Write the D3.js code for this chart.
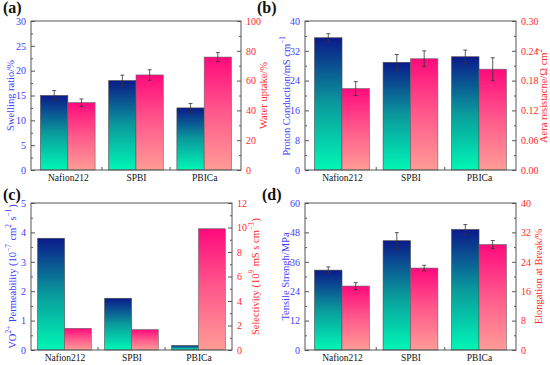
<!DOCTYPE html>
<html>
<head>
<meta charset="utf-8">
<script src="https://cdn.jsdelivr.net/npm/d3@7"></script>
<style>
  body { margin: 0; background: #fff; }
  svg text { font-family: "Liberation Serif", "Times New Roman", "DejaVu Serif", serif !important; }
</style>
</head>
<body>
<svg id="chart" width="550" height="365"></svg>
<script>
// membrane property data
var categories = ["Nafion212", "SPBI", "PBICa"];

var swelling = [15.0, 18.0, 12.5];
var swellingErr = [1.0, 1.1, 0.9];
var waterUptake = [45.2, 63.8, 75.8];
var waterUptakeErr = [2.5, 3.5, 3.0];

var conduction = [35.5, 28.9, 30.4];
var conductionErr = [1.1, 2.1, 1.8];
var resistance = [0.164, 0.224, 0.203];
var resistanceErr = [0.014, 0.016, 0.023];

var permeability = [3.8, 1.76, 0.15];
var selectivity = [1.77, 1.66, 9.9];

var tensile = [32.6, 44.6, 49.2];
var tensileErr = [1.3, 3.3, 2.0];
var elongation = [17.4, 22.3, 28.7];
var elongationErr = [0.95, 0.75, 1.1];

var blueText = "#3d3dff",
    redText = "#ff2a2a",
    serif = "'Liberation Serif', 'Times New Roman', serif";

var svg = d3.select("#chart");

var defs = svg.append("defs");
function grad(id, top, mid, bottom) {
    var g = defs.append("linearGradient")
        .attr("id", id)
        .attr("x1", 0).attr("y1", 0)
        .attr("x2", 0).attr("y2", 1);
    g.append("stop").attr("offset", "0%").attr("stop-color", top);
    g.append("stop").attr("offset", "50%").attr("stop-color", mid);
    g.append("stop").attr("offset", "100%").attr("stop-color", bottom);
}
grad("gBlue", "#0b1a8a", "#0a9a9c", "#00f7b6");
grad("gPink", "#ff0a7c", "#ff5a8c", "#ff9c96");

// text with super scripts: parts = [[txt, sup], ...]
function richText(sel, parts) {
    parts.forEach(function (p) {
        if (p[1]) {
            sel.append("tspan").attr("dy", -4).attr("font-size", "0.7em").text(p[0]);
            sel.append("tspan").attr("dy", 4).text("\u200a");
        } else {
            sel.append("tspan").text(p[0]);
        }
    });
}

function drawPanel(cfg) {
    var g = svg.append("g").attr("font-family", serif);
    var x = d3.scalePoint().domain(categories)
        .range([cfg.x0, cfg.x1]).padding(cfg.pad);
    var step = x.step(),
        bw = step * 0.4;
    var yL = d3.scaleLinear().domain(cfg.leftDomain).range([cfg.y1, cfg.y0]);
    var yR = d3.scaleLinear().domain(cfg.rightDomain).range([cfg.y1, cfg.y0]);

    var rows = categories.map(function (c, i) {
        return {
            cat: c,
            l: cfg.left[i], le: cfg.leftErr ? cfg.leftErr[i] : null,
            r: cfg.right[i], re: cfg.rightErr ? cfg.rightErr[i] : null
        };
    });

    // bars
    g.selectAll("rect.lb").data(rows).enter().append("rect")
        .attr("class", "lb")
        .attr("x", function (d) { return x(d.cat) - bw; })
        .attr("y", function (d) { return yL(d.l); })
        .attr("width", bw)
        .attr("height", function (d) { return yL(0) - yL(d.l); })
        .attr("fill", "url(#gBlue)")
        .attr("stroke", "#444").attr("stroke-width", 0.6);

    g.selectAll("rect.rb").data(rows).enter().append("rect")
        .attr("class", "rb")
        .attr("x", function (d) { return x(d.cat); })
        .attr("y", function (d) { return yR(d.r); })
        .attr("width", bw)
        .attr("height", function (d) { return yR(0) - yR(d.r); })
        .attr("fill", "url(#gPink)")
        .attr("stroke", "#666").attr("stroke-width", 0.6);

    // error bars
    function errBars(key, ekey, y, off) {
        var eb = g.selectAll("g.e" + key).data(rows.filter(function (d) { return d[ekey] != null; }))
            .enter().append("g").attr("class", "e" + key)
            .attr("stroke", "#333").attr("stroke-width", 0.8);
        eb.append("line")
            .attr("x1", function (d) { return x(d.cat) + off; })
            .attr("x2", function (d) { return x(d.cat) + off; })
            .attr("y1", function (d) { return y(d[key] - d[ekey]); })
            .attr("y2", function (d) { return y(d[key] + d[ekey]); });
        [-1, 1].forEach(function (s) {
            eb.append("line")
                .attr("x1", function (d) { return x(d.cat) + off - 2; })
                .attr("x2", function (d) { return x(d.cat) + off + 2; })
                .attr("y1", function (d) { return y(d[key] + s * d[ekey]); })
                .attr("y2", function (d) { return y(d[key] + s * d[ekey]); });
        });
    }
    errBars("l", "le", yL, -bw / 2);
    errBars("r", "re", yR, bw / 2);

    // frame
    g.append("rect")
        .attr("x", cfg.x0).attr("y", cfg.y0)
        .attr("width", cfg.x1 - cfg.x0).attr("height", cfg.y1 - cfg.y0)
        .attr("fill", "none").attr("stroke", "#555").attr("stroke-width", 1);

    function minorVals(ticks) {
        var out = [];
        for (var i = 0; i < ticks.length - 1; i++) out.push((ticks[i] + ticks[i + 1]) / 2);
        return out;
    }

    // left axis
    var la = g.append("g").attr("transform", "translate(" + cfg.x0 + ",0)")
        .call(d3.axisLeft(yL).tickValues(cfg.leftTicks).tickSize(-4).tickSizeOuter(0)
            .tickPadding(5).tickFormat(d3.format(cfg.leftFmt || "d")));
    la.attr("font-family", serif).attr("font-size", 10);
    la.select(".domain").remove();
    la.selectAll("line").attr("stroke", "#555");
    la.selectAll("text").attr("fill", blueText);
    g.append("g").attr("transform", "translate(" + cfg.x0 + ",0)")
        .call(d3.axisLeft(yL).tickValues(minorVals(cfg.leftTicks)).tickSize(-2).tickFormat(""))
        .call(function (s) { s.select(".domain").remove(); s.selectAll("line").attr("stroke", "#555"); });

    // right axis
    var ra = g.append("g").attr("transform", "translate(" + cfg.x1 + ",0)")
        .call(d3.axisRight(yR).tickValues(cfg.rightTicks).tickSize(-4).tickSizeOuter(0)
            .tickPadding(5).tickFormat(d3.format(cfg.rightFmt || "d")));
    ra.attr("font-family", serif).attr("font-size", 10);
    ra.select(".domain").remove();
    ra.selectAll("line").attr("stroke", "#555");
    ra.selectAll("text").attr("fill", redText);
    g.append("g").attr("transform", "translate(" + cfg.x1 + ",0)")
        .call(d3.axisRight(yR).tickValues(minorVals(cfg.rightTicks)).tickSize(-2).tickFormat(""))
        .call(function (s) { s.select(".domain").remove(); s.selectAll("line").attr("stroke", "#555"); });

    // bottom axis
    var ba = g.append("g").attr("transform", "translate(0," + cfg.y1 + ")")
        .call(d3.axisBottom(x).tickSize(0).tickPadding(4));
    ba.attr("font-family", serif).attr("font-size", 9.5);
    ba.select(".domain").remove();
    ba.selectAll("text").attr("fill", "#111");
    var mids = [];
    for (var i = 0; i < categories.length - 1; i++) mids.push((x(categories[i]) + x(categories[i + 1])) / 2);
    g.selectAll("line.bt").data(mids).enter().append("line")
        .attr("class", "bt")
        .attr("x1", function (d) { return d; }).attr("x2", function (d) { return d; })
        .attr("y1", cfg.y1).attr("y2", cfg.y1 - 3)
        .attr("stroke", "#555");

    // axis titles
    var cy = (cfg.y0 + cfg.y1) / 2;
    var lt = g.append("text")
        .attr("transform", "translate(" + cfg.ltx + "," + cy + ") rotate(-90)")
        .attr("text-anchor", "middle").attr("dominant-baseline", "central")
        .attr("fill", blueText).attr("font-size", cfg.tfs || 10.5);
    richText(lt, cfg.leftTitle);
    var rt = g.append("text")
        .attr("transform", "translate(" + cfg.rtx + "," + cy + ") rotate(-90)")
        .attr("text-anchor", "middle").attr("dominant-baseline", "central")
        .attr("fill", redText).attr("font-size", cfg.tfs || 10.5);
    richText(rt, cfg.rightTitle);

    // panel label
    g.append("text").attr("x", cfg.lx).attr("y", cfg.ly)
        .attr("font-size", 16).attr("font-weight", "bold").attr("fill", "#111")
        .text(cfg.label);
}

drawPanel({
    label: "(a)", lx: 3, ly: 13,
    x0: 31, x1: 241, y0: 21, y1: 170, pad: 0.54,
    left: swelling, leftErr: swellingErr, leftDomain: [0, 30], leftTicks: [0, 5, 10, 15, 20, 25, 30],
    right: waterUptake, rightErr: waterUptakeErr, rightDomain: [0, 100], rightTicks: [0, 20, 40, 60, 80, 100],
    ltx: 10, rtx: 263,
    leftTitle: [["Swelling ratio/%"]], rightTitle: [["Water uptake/%"]]
});

drawPanel({
    label: "(b)", lx: 257, ly: 13,
    x0: 305, x1: 516, y0: 21, y1: 170, pad: 0.54,
    left: conduction, leftErr: conductionErr, leftDomain: [0, 40], leftTicks: [0, 8, 16, 24, 32, 40],
    right: resistance, rightErr: resistanceErr, rightDomain: [0, 0.3],
    rightTicks: [0, 0.06, 0.12, 0.18, 0.24, 0.3], rightFmt: ".2f",
    ltx: 286, rtx: 543,
    leftTitle: [["Proton Conduction/mS cm"], ["\u22121", true]],
    rightTitle: [["Aera resistacne/\u03a9 cm"], ["2", true]]
});

drawPanel({
    label: "(c)", lx: 3, ly: 200,
    x0: 31, x1: 232, y0: 203, y1: 350, pad: 0.5,
    left: permeability, leftDomain: [0, 5], leftTicks: [0, 1, 2, 3, 4, 5],
    right: selectivity, rightDomain: [0, 12], rightTicks: [0, 2, 4, 6, 8, 10, 12],
    ltx: 12, rtx: 255,
    leftTitle: [["VO"], ["2+", true], [" Permeability (10"], ["\u22127", true], [" cm"], ["2", true], [" s"], ["\u22121", true], [")"]],
    rightTitle: [["Selectivity (10"], ["9", true], [" mS s cm"], ["\u22123", true], [")"]]
});

drawPanel({
    label: "(d)", lx: 262, ly: 200,
    x0: 305, x1: 516, y0: 203, y1: 350, pad: 0.54,
    left: tensile, leftErr: tensileErr, leftDomain: [0, 60], leftTicks: [0, 12, 24, 36, 48, 60],
    right: elongation, rightErr: elongationErr, rightDomain: [0, 40], rightTicks: [0, 8, 16, 24, 32, 40],
    ltx: 285, rtx: 538,
    leftTitle: [["Tensile Strengh/MPa"]], rightTitle: [["Elongation at Break/%"]]
});
</script>
</body>
</html>
